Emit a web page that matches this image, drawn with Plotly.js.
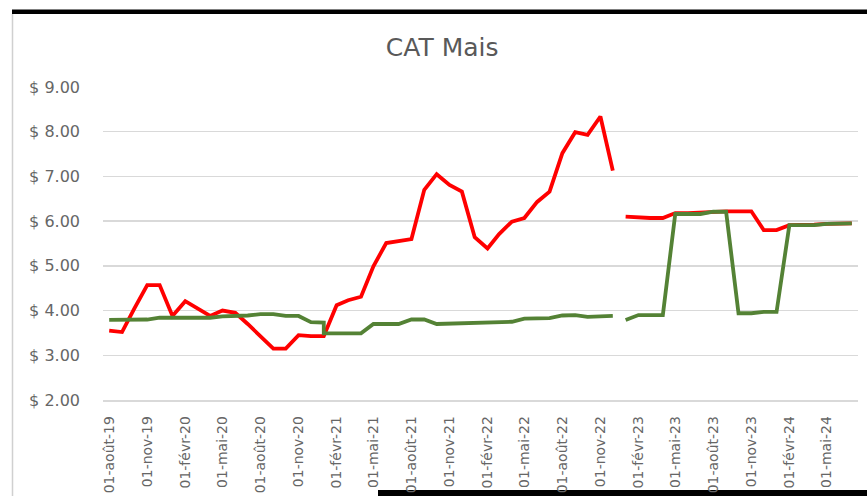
<!DOCTYPE html>
<html>
<head>
<meta charset="utf-8">
<script src="https://cdn.plot.ly/plotly-3.0.1.min.js"></script>
<style>html,body{margin:0;padding:0;background:#fff;}#chart{width:867px;height:496px;}</style>
</head>
<body>
<div id="chart"></div>
<script>
// Months (first segment: Aug 2019 – Dec 2022, second: Jan 2023 – Jul 2024)
const monthsA = ['2019-08','2019-09','2019-10','2019-11','2019-12','2020-01','2020-02','2020-03','2020-04','2020-05','2020-06','2020-07','2020-08','2020-09','2020-10','2020-11','2020-12','2021-01','2021-02','2021-03','2021-04','2021-05','2021-06','2021-07','2021-08','2021-09','2021-10','2021-11','2021-12','2022-01','2022-02','2022-03','2022-04','2022-05','2022-06','2022-07','2022-08','2022-09','2022-10','2022-11','2022-12'];
const monthsB = ['2023-01','2023-02','2023-03','2023-04','2023-05','2023-06','2023-07','2023-08','2023-09','2023-10','2023-11','2023-12','2024-01','2024-02','2024-03','2024-04','2024-05','2024-06','2024-07'];
// green first segment has two entries for Jan 2021
const monthsGreenA = ['2019-08','2019-09','2019-10','2019-11','2019-12','2020-01','2020-02','2020-03','2020-04','2020-05','2020-06','2020-07','2020-08','2020-09','2020-10','2020-11','2020-12','2021-01','2021-01','2021-02','2021-03','2021-04','2021-05','2021-06','2021-07','2021-08','2021-09','2021-10','2021-11','2021-12','2022-01','2022-02','2022-03','2022-04','2022-05','2022-06','2022-07','2022-08','2022-09','2022-10','2022-11','2022-12'];

const redA = [3.55,3.52,4.05,4.57,4.57,3.88,4.21,4.05,3.88,4.00,3.95,3.70,3.42,3.15,3.15,3.45,3.43,3.43,4.12,4.23,4.31,4.99,5.51,5.55,5.60,6.70,7.05,6.81,6.66,5.64,5.39,5.71,5.99,6.07,6.43,6.66,7.52,7.99,7.93,8.34,7.13];
const redB = [6.10,6.08,6.07,6.07,6.18,6.18,6.20,6.22,6.22,6.22,6.22,5.80,5.80,5.91,5.91,5.92,5.94,5.95,5.95];
const greenA = [3.79,3.79,3.79,3.80,3.84,3.84,3.84,3.83,3.84,3.87,3.87,3.89,3.92,3.92,3.88,3.88,3.74,3.73,3.49,3.49,3.49,3.49,3.70,3.70,3.70,3.80,3.80,3.70,3.71,3.71,3.72,3.73,3.74,3.75,3.82,3.83,3.83,3.89,3.90,3.86,3.86,3.88];
const greenB = [3.79,3.90,3.90,3.90,6.16,6.16,6.16,6.21,6.21,3.94,3.94,3.97,3.97,5.91,5.91,5.91,5.94,5.95,5.95];

const tickDates = ['2019-08-01','2019-11-01','2020-02-01','2020-05-01','2020-08-01','2020-11-01','2021-02-01','2021-05-01','2021-08-01','2021-11-01','2022-02-01','2022-05-01','2022-08-01','2022-11-01','2023-02-01','2023-05-01','2023-08-01','2023-11-01','2024-02-01','2024-05-01'];
const tickLabels = ['01-août-19','01-nov-19','01-févr-20','01-mai-20','01-août-20','01-nov-20','01-févr-21','01-mai-21','01-août-21','01-nov-21','01-févr-22','01-mai-22','01-août-22','01-nov-22','01-févr-23','01-mai-23','01-août-23','01-nov-23','01-févr-24','01-mai-24'];
const yTicks = [2,3,4,5,6,7,8,9];
const yLabels = ['$ 2.00','$ 3.00','$ 4.00','$ 5.00','$ 6.00','$ 7.00','$ 8.00','$ 9.00'];

const RED = '#ff0000', GREEN = '#548235';
const line = (c) => ({color: c, width: 3.8});
const traces = [
  {x: monthsA, y: redA, type: 'scatter', mode: 'lines', line: line(RED), hoverinfo: 'skip'},
  {x: monthsB, y: redB, type: 'scatter', mode: 'lines', line: line(RED), hoverinfo: 'skip'},
  {x: monthsGreenA, y: greenA, type: 'scatter', mode: 'lines', line: line(GREEN), hoverinfo: 'skip'},
  {x: monthsB, y: greenB, type: 'scatter', mode: 'lines', line: line(GREEN), hoverinfo: 'skip'}
];

const W = 755, H = 313, L = 103, T = 87;
const px = (v) => (v - L) / W;
const py = (v) => (T + H - v) / H;

const layout = {
  width: 867, height: 496,
  margin: {l: L, r: 867 - L - W, t: T, b: 496 - T - H, pad: 0},
  paper_bgcolor: '#ffffff', plot_bgcolor: '#ffffff',
  showlegend: false,
  font: {family: 'DejaVu Sans, sans-serif', color: '#595959'},
  title: {text: 'CAT Mais', x: 0.51, xref: 'container', xanchor: 'center', y: 1 - 47/496, yref: 'container', yanchor: 'middle',
          font: {family: 'DejaVu Sans, sans-serif', size: 25, color: '#595959'}},
  xaxis: {
    type: 'date', range: ['2019-07-17', '2024-07-16'],
    tickmode: 'array', tickvals: tickDates, ticktext: tickLabels,
    tickangle: -90, tickfont: {size: 14, color: '#666666'},
    showgrid: false, zeroline: false, showline: true, linecolor: '#d9d9d9', linewidth: 1.5,
    ticks: '', ticklabelstandoff: 9, fixedrange: true
  },
  yaxis: {
    range: [2, 9], tickmode: 'array', tickvals: yTicks, ticktext: yLabels,
    tickfont: {size: 16, color: '#666666'},
    showgrid: true, gridcolor: '#d9d9d9', gridwidth: 1.5,
    zeroline: false, showline: false, ticks: '', ticklabelstandoff: 22, fixedrange: true
  },
  shapes: [
    {type: 'rect', xref: 'paper', yref: 'paper', x0: px(12), x1: px(868), y0: py(14), y1: py(9.5), fillcolor: '#000', line: {width: 0}, layer: 'above'},
    {type: 'line', xref: 'paper', yref: 'paper', x0: px(12.5), x1: px(12.5), y0: py(14), y1: py(496), line: {color: '#d0d0d0', width: 1.5}},
    {type: 'rect', xref: 'paper', yref: 'paper', x0: px(378), x1: px(868), y0: py(497), y1: py(490), fillcolor: '#000', line: {width: 0}, layer: 'below'}
  ]
};

Plotly.newPlot('chart', traces, layout, {staticPlot: true, displayModeBar: false});
</script>
</body>
</html>
